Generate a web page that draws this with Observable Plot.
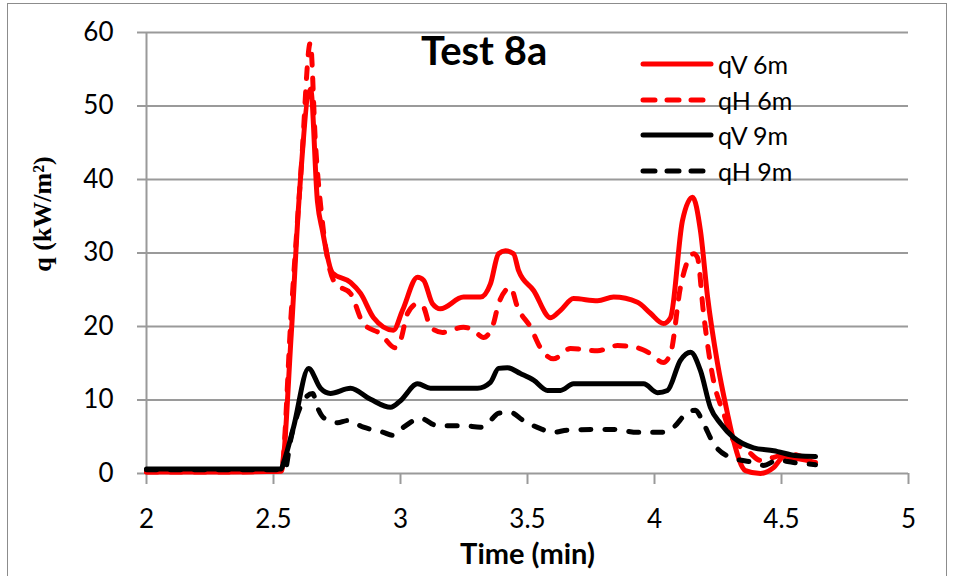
<!DOCTYPE html>
<html>
<head>
<meta charset="utf-8">
<script src="https://cdn.jsdelivr.net/npm/d3@7"></script>
<script src="https://cdn.jsdelivr.net/npm/@observablehq/plot@0.6"></script>
<style>
  html, body { margin: 0; padding: 0; background: #fff; }
  #wrap { position: relative; width: 957px; height: 576px; overflow: hidden; font-family: Lato, "Open Sans", sans-serif; }
  #border { position: absolute; left: 7px; top: 3px; width: 940px; height: 600px; border: 1px solid #8c8c8c; box-sizing: border-box; pointer-events: none; }
  #title { position: absolute; left: 421px; top: 26px; font-size: 40px; line-height: 48px; font-weight: 700; color: #000; white-space: nowrap; }
  #legend { position: absolute; left: 640px; top: 46px; }
  #legend .row { position: relative; height: 35.7px; display: flex; align-items: center; }
  #legend svg { display: block; }
  #legend span { margin-left: 4px; font-size: 25px; color: #000; }
</style>
</head>
<body>
<div id="wrap">
  <div id="chart"></div>
  <div id="border"></div>
  <div id="title">Test 8a</div>
  <div id="legend"></div>
</div>
<script>
// ---- data ----
const seriesNames = ["qV 6m", "qH 6m", "qV 9m", "qH 9m"];
const seriesColors = ["#ff0000", "#ff0000", "#000000", "#000000"];
const seriesDashed = [false, true, false, true];

const qV6_t = [2.0, 2.25, 2.53, 2.57, 2.60, 2.646, 2.673, 2.693, 2.732, 2.803, 2.843, 2.894, 2.972, 3.008, 3.067, 3.091, 3.126, 3.157, 3.248, 3.315, 3.354, 3.386, 3.413, 3.445, 3.465, 3.524, 3.591, 3.630, 3.681, 3.776, 3.839, 3.933, 3.984, 4.035, 4.063, 4.110, 4.150, 4.181, 4.209, 4.248, 4.287, 4.311, 4.358, 4.417, 4.469, 4.508, 4.634];
const qV6_q = [0.2, 0.2, 0.3, 19, 37, 52.3, 37, 33, 27.3, 26, 24.5, 21.2, 19.5, 22.2, 26.7, 26.3, 23.1, 22.4, 24, 24, 25.8, 29.9, 30.3, 29.9, 27.6, 24.9, 21.2, 22.2, 23.8, 23.5, 24, 23.3, 21.8, 20.4, 21.2, 34.4, 37.6, 33, 24, 15, 8.2, 4.5, 0.4, 0, 0.8, 2.2, 1.5];

const qH6_t = [2.0, 2.25, 2.53, 2.57, 2.61, 2.645, 2.665, 2.69, 2.72, 2.745, 2.803, 2.854, 2.921, 2.980, 3.0, 3.028, 3.067, 3.091, 3.118, 3.165, 3.248, 3.287, 3.327, 3.366, 3.386, 3.433, 3.461, 3.512, 3.551, 3.602, 3.669, 3.776, 3.854, 3.933, 3.984, 4.035, 4.063, 4.102, 4.154, 4.169, 4.193, 4.232, 4.272, 4.311, 4.366, 4.417, 4.469, 4.524, 4.634];
const qH6_q = [0.2, 0.2, 0.3, 22, 42, 58.6, 45, 35, 28, 25.8, 24.5, 20.4, 19, 17.1, 18.1, 21.8, 23.1, 22.6, 19.9, 19.2, 19.9, 19.5, 18.5, 20.4, 23.1, 25.3, 22.6, 19.9, 17.1, 15.6, 17, 16.7, 17.4, 17.1, 16.3, 15.1, 16.3, 25.3, 29.9, 29.4, 21.8, 12.7, 8.2, 4.5, 3.1, 1.8, 2.2, 2.7, 1.4];

const qV9_t = [2.0, 2.25, 2.53, 2.539, 2.579, 2.638, 2.685, 2.724, 2.803, 2.882, 2.961, 3.0, 3.067, 3.118, 3.224, 3.303, 3.354, 3.386, 3.421, 3.472, 3.524, 3.579, 3.630, 3.681, 3.957, 4.012, 4.051, 4.102, 4.142, 4.181, 4.220, 4.260, 4.311, 4.390, 4.469, 4.563, 4.634];
const qV9_q = [0.6, 0.6, 0.6, 1.4, 6.3, 14.3, 11.6, 10.9, 11.6, 10.1, 9.0, 9.9, 12.2, 11.6, 11.6, 11.6, 12.4, 14.3, 14.4, 13.6, 12.7, 11.3, 11.3, 12.2, 12.2, 11.0, 11.3, 15.4, 16.5, 14, 9, 6.8, 4.9, 3.5, 3.1, 2.4, 2.3];

const qH9_t = [2.0, 2.25, 2.545, 2.567, 2.626, 2.654, 2.673, 2.697, 2.752, 2.791, 2.854, 2.933, 2.969, 3.012, 3.079, 3.146, 3.248, 3.315, 3.354, 3.386, 3.433, 3.484, 3.551, 3.602, 3.657, 3.839, 3.933, 4.024, 4.075, 4.130, 4.161, 4.193, 4.232, 4.299, 4.390, 4.429, 4.484, 4.547, 4.634];
const qH9_q = [0.5, 0.5, 0.5, 4.5, 10.3, 10.9, 9, 7.6, 6.9, 7.2, 6.3, 5.6, 5.2, 6.3, 7.5, 6.5, 6.5, 6.3, 7.2, 8.2, 8.3, 7.2, 6.1, 5.6, 5.9, 6.0, 5.6, 5.6, 6.3, 8.3, 8.6, 6.8, 4.1, 2.2, 1.5, 1.1, 1.8, 1.5, 1.2];

const xTicks = [2, 2.5, 3, 3.5, 4, 4.5, 5];
const yTicks = [0, 10, 20, 30, 40, 50, 60];
const titleText = "Test 8a";
const xLabel = "Time (min)";
const yLabel = "q (kW/m²)";

// ---- build table ----
const allT = [qV6_t, qH6_t, qV9_t, qH9_t];
const allQ = [qV6_q, qH6_q, qV9_q, qH9_q];
const rows = [];
seriesNames.forEach((name, i) => {
  allT[i].forEach((t, j) => rows.push({series: name, t, q: allQ[i][j]}));
});

const font = "Lato, 'Open Sans', sans-serif";

const lineMarks = seriesNames.map((name, i) => Plot.line(rows.filter(d => d.series === name), {
  x: "t", y: "q",
  stroke: seriesColors[i],
  strokeWidth: 5,
  strokeDasharray: seriesDashed[i] ? (i === 1 ? "11,13" : "10,14") : null,
  strokeLinecap: "round",
  strokeLinejoin: "round",
  curve: "monotone-x"
}));

const chart = Plot.plot({
  width: 957,
  height: 576,
  marginLeft: 146,
  marginRight: 49,
  marginTop: 32,
  marginBottom: 103,
  style: {fontFamily: font, fontSize: "26px", color: "#000", background: "transparent", overflow: "visible"},
  x: {domain: [2, 5], ticks: xTicks},
  y: {domain: [0, 60], ticks: yTicks},
  marks: [
    Plot.gridY(yTicks.filter(d => d > 0), {stroke: "#9a9a9a", strokeOpacity: 1, strokeWidth: 2}),
    Plot.axisY(yTicks, {tickSize: 9, tickPadding: 24, stroke: "#9a9a9a", strokeWidth: 2, label: null, fontSize: 26, tickFormat: d => String(d)}),
    Plot.axisX(xTicks, {tickSize: 11, tickPadding: 25, stroke: "#9a9a9a", strokeWidth: 2, label: null, fontSize: 26, tickFormat: d => String(d)}),
    Plot.ruleX([2], {y1: 0, y2: 60, stroke: "#9a9a9a", strokeWidth: 2}),
    Plot.ruleY([0], {stroke: "#9a9a9a", strokeWidth: 2}),
    ...lineMarks,
    Plot.text([xLabel], {frameAnchor: "bottom", lineAnchor: "middle", dy: 81, fontSize: 29, fontWeight: "bold", fill: "#000"}),
    Plot.text([yLabel], {frameAnchor: "left", textAnchor: "middle", dx: -104, dy: -39, rotate: -90, fontSize: 26, fontWeight: "bold", fontFamily: "'Liberation Serif', 'DejaVu Serif', serif", fill: "#000"})
  ]
});
document.getElementById("chart").appendChild(chart);
document.getElementById("title").textContent = titleText;

// legend (inside plot, top right)
const legend = document.getElementById("legend");
seriesNames.forEach((name, i) => {
  const row = document.createElement("div");
  row.className = "row";
  const svg = d3.create("svg").attr("width", 74).attr("height", 12);
  svg.append("line").attr("x1", 3).attr("x2", 71).attr("y1", 6).attr("y2", 6)
    .attr("stroke", seriesColors[i]).attr("stroke-width", 5).attr("stroke-linecap", "round")
    .attr("stroke-dasharray", seriesDashed[i] ? "12,12" : null);
  row.appendChild(svg.node());
  const span = document.createElement("span");
  span.textContent = name;
  row.appendChild(span);
  legend.appendChild(row);
});
</script>
</body>
</html>
